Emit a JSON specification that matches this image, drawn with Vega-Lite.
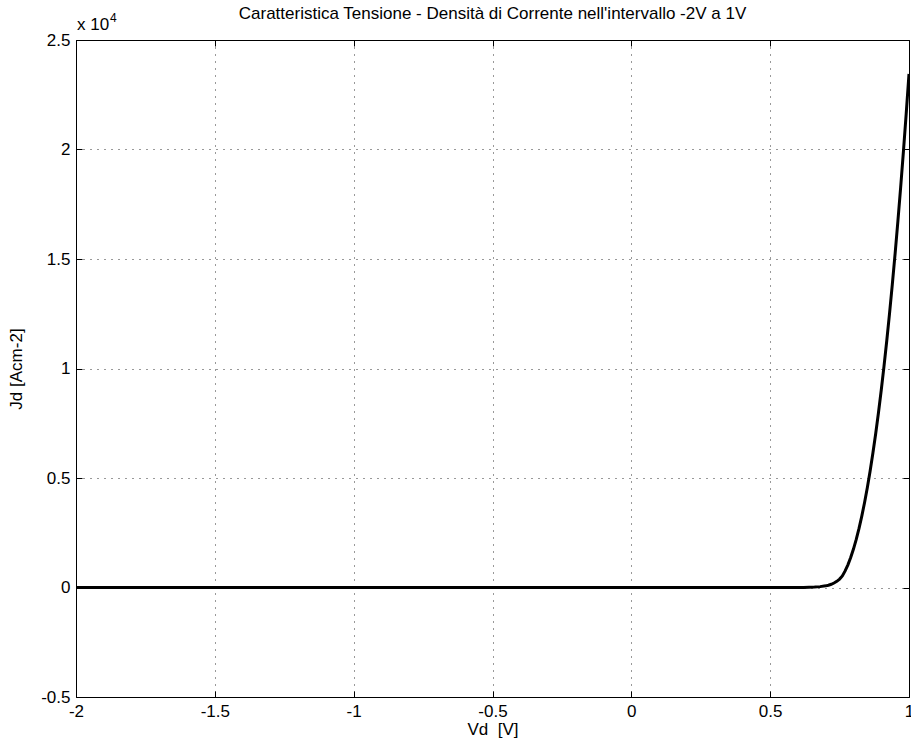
{
  "$schema": "https://vega.github.io/schema/vega-lite/v6.json",
  "width": 833,
  "height": 657,
  "autosize": {"type": "none"},
  "padding": {"left": 76, "top": 40, "right": 2, "bottom": 52},
  "background": "white",
  "config": {
    "font": "Liberation Sans",
    "view": {"stroke": null},
    "axis": {
      "labelFont": "Liberation Sans",
      "titleFont": "Liberation Sans",
      "labelFontSize": 17,
      "titleFontSize": 17,
      "titleFontWeight": "normal",
      "labelColor": "black",
      "titleColor": "black",
      "domainColor": "black",
      "domainWidth": 1,
      "tickColor": "black",
      "tickWidth": 1
    }
  },
  "title": {
    "text": "Caratteristica Tensione - Densità di Corrente nell'intervallo -2V a 1V",
    "fontSize": 17,
    "fontWeight": "normal",
    "font": "Liberation Sans",
    "color": "black",
    "anchor": "middle",
    "offset": -11
  },
  "data": {
    "values": [
      {"V": -2, "J": 0}, {"V": -1.5, "J": 0}, {"V": -1, "J": 0}, {"V": -0.5, "J": 0},
      {"V": 0, "J": 0}, {"V": 0.5, "J": 0}, {"V": 0.55, "J": 0}, {"V": 0.6, "J": 2},
      {"V": 0.62, "J": 5}, {"V": 0.64, "J": 10}, {"V": 0.66, "J": 20}, {"V": 0.68, "J": 40},
      {"V": 0.7, "J": 75}, {"V": 0.71, "J": 105}, {"V": 0.72, "J": 148}, {"V": 0.73, "J": 205},
      {"V": 0.74, "J": 282}, {"V": 0.75, "J": 386}, {"V": 0.76, "J": 526}, {"V": 0.77, "J": 756},
      {"V": 0.78, "J": 1036}, {"V": 0.79, "J": 1370}, {"V": 0.8, "J": 1755}, {"V": 0.81, "J": 2197},
      {"V": 0.82, "J": 2697}, {"V": 0.83, "J": 3259}, {"V": 0.84, "J": 3884}, {"V": 0.85, "J": 4569},
      {"V": 0.86, "J": 5319}, {"V": 0.87, "J": 6137}, {"V": 0.88, "J": 7023}, {"V": 0.89, "J": 7980},
      {"V": 0.9, "J": 9007}, {"V": 0.91, "J": 10105}, {"V": 0.92, "J": 11277}, {"V": 0.93, "J": 12525},
      {"V": 0.94, "J": 13850}, {"V": 0.95, "J": 15250}, {"V": 0.96, "J": 16729}, {"V": 0.97, "J": 18286},
      {"V": 0.98, "J": 19928}, {"V": 0.99, "J": 21647}, {"V": 1.0, "J": 23450}
    ]
  },
  "layer": [
    {
      "mark": {"type": "line", "color": "black", "strokeWidth": 3, "clip": true},
      "encoding": {
        "x": {
          "field": "V", "type": "quantitative",
          "scale": {"domain": [-2, 1], "nice": false, "zero": false},
          "axis": {
            "orient": "bottom",
            "values": [-2, -1.5, -1, -0.5, 0, 0.5, 1],
            "labelExpr": "'' + datum.value",
            "title": "Vd\u00a0 [V]",
            "grid": true, "gridColor": "#333333", "gridDash": [1, 6], "gridWidth": 1,
            "tickSize": -6, "labelPadding": 12, "titlePadding": 2,
            "labelFlush": false
          }
        },
        "y": {
          "field": "J", "type": "quantitative",
          "scale": {"domain": [-5000, 25000], "nice": false, "zero": false},
          "axis": {
            "orient": "left",
            "values": [-5000, 0, 5000, 10000, 15000, 20000, 25000],
            "labelExpr": "'' + (datum.value / 10000)",
            "title": "Jd [Acm-2]",
            "grid": true, "gridColor": "#333333", "gridDash": [1, 6], "gridWidth": 1,
            "tickSize": -6, "labelPadding": 12, "titlePadding": 15,
            "labelFlush": false
          }
        }
      }
    },
    {
      "data": {"values": [{"t": "x 10"}]},
      "mark": {"type": "text", "align": "left", "baseline": "alphabetic", "dy": -10, "dx": 1, "fontSize": 17, "font": "Liberation Sans", "color": "black"},
      "encoding": {
        "x": {"datum": -2, "type": "quantitative", "axis": {"orient": "top", "values": [-2, -1.5, -1, -0.5, 0, 0.5, 1], "labels": false, "title": null, "grid": false, "tickSize": -6}},
        "y": {"datum": 25000, "type": "quantitative", "axis": {"orient": "right", "values": [-5000, 0, 5000, 10000, 15000, 20000, 25000], "labels": false, "title": null, "grid": false, "tickSize": -6}},
        "text": {"field": "t"}
      }
    },
    {
      "data": {"values": [{"t": "4"}]},
      "mark": {"type": "text", "align": "left", "baseline": "alphabetic", "dy": -18, "dx": 34, "fontSize": 12, "font": "Liberation Sans", "color": "black"},
      "encoding": {
        "x": {"datum": -2, "type": "quantitative", "axis": null},
        "y": {"datum": 25000, "type": "quantitative", "axis": null},
        "text": {"field": "t"}
      }
    }
  ],
  "resolve": {"axis": {"x": "independent", "y": "independent"}}
}
